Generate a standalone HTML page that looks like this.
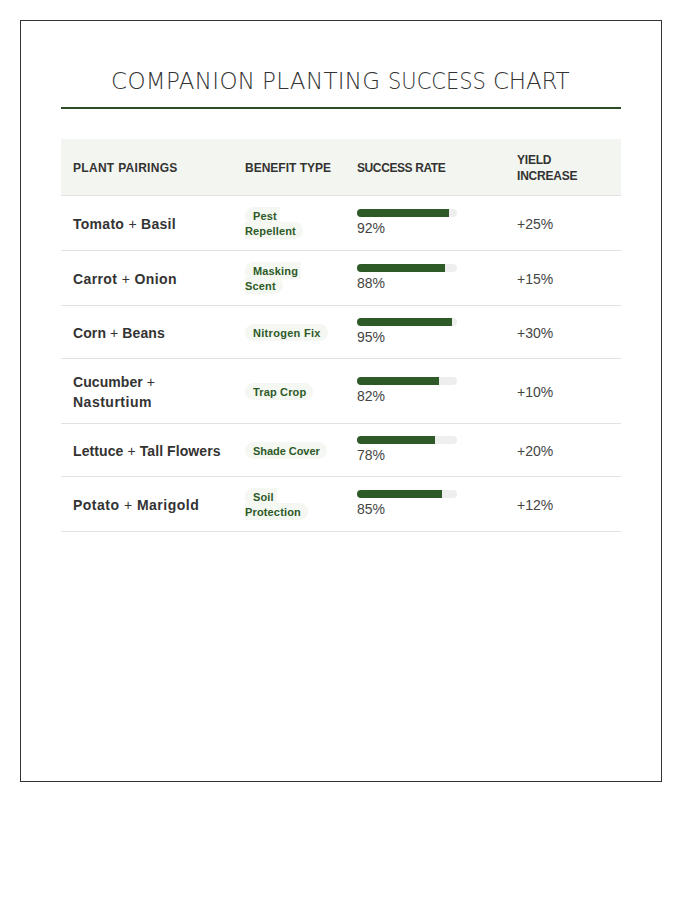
<!DOCTYPE html>
<html>
<head>
<meta charset="utf-8">
<style>
html, body { margin: 0; padding: 0; background: #fff; }
body { width: 700px; height: 900px; position: relative; overflow: hidden;
  font-family: "Liberation Sans", Arial, sans-serif; color: #333; }
.card { position: absolute; left: 20px; top: 20px; width: 560px; height: 680px;
  padding: 40px; border: 1px solid #333; background: #fff; }
h1 { position: relative; margin: 0; padding: 0 0 7px 0; height: 39px; line-height: 39px;
  font-family: "DejaVu Sans", "Liberation Sans", sans-serif;
  font-size: 23px; font-weight: 200; color: #333; text-align: left; border-bottom: 2px solid #2d4a27; white-space: nowrap; }
h1 span { position: absolute; top: 1px; transform-origin: 0 50%; }
table { margin-top: 30px; width: 560px; border-collapse: collapse; table-layout: fixed; }
th { background: #f3f5f0; padding: 13px 12px 11px; font-size: 12px; line-height: 16px; font-weight: 700;
  text-align: left; color: #333; border-bottom: 1px solid #e2e2e2; vertical-align: middle; }
td { padding: 13px 12px 11px; border-bottom: 1px solid #e2e2e2; vertical-align: middle; }
td.pair { font-size: 14px; line-height: 20px; font-weight: 700; color: #333; white-space: nowrap; }
td.pair .plus { font-weight: 400; }
td.ben { font-size: 11px; line-height: 15px; }
.badge { background: #f4f7f2; color: #2d5a27; font-weight: 700; padding: 3px 7px 2px 8px; border-radius: 10px; letter-spacing: 0.15px; white-space: nowrap; }
td.rate { font-size: 14px; padding: 12px; }
.bar { width: 100px; height: 8px; border-radius: 4px; background: #eee; overflow: hidden; }
.fill { height: 8px; background: #2d5a27; }
.pct { line-height: 20px; color: #444; position: relative; top: 1px; }
td.yld { font-size: 14px; line-height: 20px; color: #444; }
</style>
</head>
<body>
<div class="card">
  <h1><span style="left:50px;letter-spacing:0.33px">COMPANION</span> <span style="left:201px;letter-spacing:0.31px">PLANTING</span> <span style="left:327px;transform:scaleX(0.913)">SUCCESS</span> <span style="left:432px;letter-spacing:-0.2px">CHART</span></h1>
  <table>
    <colgroup><col style="width:172px"><col style="width:112px"><col style="width:160px"><col style="width:116px"></colgroup>
    <thead>
      <tr><th style="letter-spacing:0.3px">PLANT PAIRINGS</th><th>BENEFIT TYPE</th><th style="letter-spacing:-0.4px">SUCCESS RATE</th><th style="letter-spacing:-0.2px">YIELD<br>INCREASE</th></tr>
    </thead>
    <tbody>
      <tr><td class="pair" style="letter-spacing:0.28px">Tomato <span class="plus">+</span> Basil</td><td class="ben"><span class="badge">Pest&nbsp;<br>Repellent</span></td><td class="rate"><div class="bar"><div class="fill" style="width:92%"></div></div><div class="pct">92%</div></td><td class="yld">+25%</td></tr>
      <tr><td class="pair" style="letter-spacing:0.39px">Carrot <span class="plus">+</span> Onion</td><td class="ben"><span class="badge">Masking&nbsp;<br>Scent</span></td><td class="rate"><div class="bar"><div class="fill" style="width:88%"></div></div><div class="pct">88%</div></td><td class="yld">+15%</td></tr>
      <tr><td class="pair" style="letter-spacing:0.1px">Corn <span class="plus">+</span> Beans</td><td class="ben"><span class="badge" style="letter-spacing:0.3px">Nitrogen Fix</span></td><td class="rate"><div class="bar"><div class="fill" style="width:95%"></div></div><div class="pct">95%</div></td><td class="yld">+30%</td></tr>
      <tr><td class="pair"><span style="letter-spacing:0.07px">Cucumber <span class="plus">+</span></span><br><span style="letter-spacing:0.5px">Nasturtium</span></td><td class="ben"><span class="badge">Trap Crop</span></td><td class="rate"><div class="bar"><div class="fill" style="width:82%"></div></div><div class="pct">82%</div></td><td class="yld">+10%</td></tr>
      <tr><td class="pair" style="letter-spacing:0.09px">Lettuce <span class="plus">+</span> Tall Flowers</td><td class="ben"><span class="badge" style="letter-spacing:-0.05px">Shade Cover</span></td><td class="rate"><div class="bar"><div class="fill" style="width:78%"></div></div><div class="pct">78%</div></td><td class="yld">+20%</td></tr>
      <tr><td class="pair" style="letter-spacing:0.49px">Potato <span class="plus">+</span> Marigold</td><td class="ben"><span class="badge">Soil&nbsp;<br>Protection</span></td><td class="rate"><div class="bar"><div class="fill" style="width:85%"></div></div><div class="pct">85%</div></td><td class="yld">+12%</td></tr>
    </tbody>
  </table>
</div>
</body>
</html>
